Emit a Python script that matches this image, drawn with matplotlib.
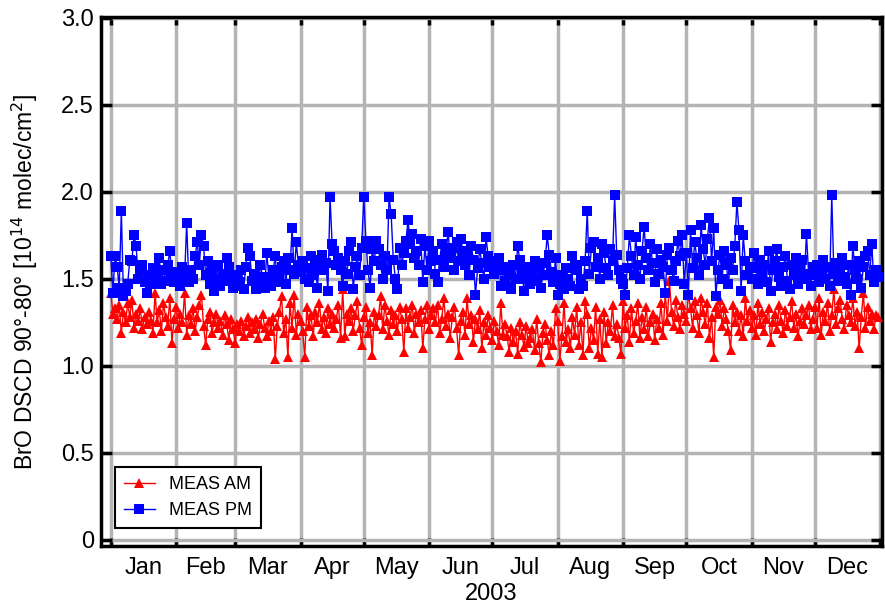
import matplotlib
matplotlib.use("Agg")
import matplotlib.pyplot as plt
import numpy as np

plt.rcParams['font.family'] = ['Liberation Sans', 'DejaVu Sans']

# days per month of 2003 and month labels
month_days = [31, 28, 31, 30, 31, 30, 31, 31, 30, 31, 30, 31]
month_names = ['Jan', 'Feb', 'Mar', 'Apr', 'May', 'Jun',
               'Jul', 'Aug', 'Sep', 'Oct', 'Nov', 'Dec']

ytick_vals = [0, 0.5, 1.0, 1.5, 2.0, 2.5, 3.0]
ytick_labels = ['0', '0.5', '1.0', '1.5', '2.0', '2.5', '3.0']

# MEAS AM, daily values (one row per month)
meas_am = [
    1.42, 1.30, 1.33, 1.27, 1.35, 1.19, 1.31, 1.25, 1.36, 1.28, 1.38, 1.22, 1.30, 1.26, 1.33, 1.21, 1.28, 1.24, 1.31, 1.26, 1.19, 1.42, 1.25, 1.32, 1.20, 1.36, 1.28, 1.23, 1.39, 1.13, 1.27,
    1.34, 1.22, 1.30, 1.25, 1.42, 1.18, 1.29, 1.24, 1.33, 1.20, 1.28, 1.35, 1.41, 1.23, 1.12, 1.27, 1.31, 1.19, 1.25, 1.30, 1.22, 1.26, 1.18, 1.29, 1.24, 1.15, 1.27, 1.21,
    1.13, 1.24, 1.20, 1.26, 1.17, 1.23, 1.28, 1.19, 1.25, 1.21, 1.27, 1.16, 1.24, 1.30, 1.22, 1.17, 1.26, 1.20, 1.28, 1.04, 1.23, 1.31, 1.40, 1.19, 1.27, 1.05, 1.36, 1.22, 1.41, 1.18, 1.30,
    1.26, 1.20, 1.05, 1.34, 1.23, 1.29, 1.17, 1.31, 1.25, 1.36, 1.21, 1.28, 1.19, 1.33, 1.24, 1.30, 1.22, 1.27, 1.35, 1.16, 1.44, 1.17, 1.30, 1.26, 1.33, 1.20, 1.29, 1.37, 1.22, 1.12,
    1.28, 1.34, 1.19, 1.25, 1.06, 1.31, 1.23, 1.29, 1.40, 1.21, 1.35, 1.26, 1.18, 1.32, 1.24, 1.29, 1.20, 1.34, 1.27, 1.08, 1.33, 1.22, 1.28, 1.35, 1.19, 1.30, 1.25, 1.32, 1.10, 1.27, 1.35,
    1.21, 1.29, 1.33, 1.25, 1.35, 1.19, 1.27, 1.39, 1.23, 1.30, 1.16, 1.28, 1.34, 1.22, 1.06, 1.26, 1.31, 1.18, 1.39, 1.24, 1.29, 1.14, 1.27, 1.21, 1.32, 1.10, 1.25, 1.18, 1.29, 1.22,
    1.15, 1.26, 1.20, 1.12, 1.36, 1.18, 1.24, 1.17, 1.08, 1.22, 1.14, 1.20, 1.07, 1.25, 1.18, 1.11, 1.23, 1.13, 1.16, 1.21, 1.09, 1.27, 1.13, 1.02, 1.19, 1.24, 1.15, 1.06, 1.20, 1.12, 1.33,
    1.26, 1.03, 1.17, 1.36, 1.14, 1.21, 1.10, 1.28, 1.18, 1.34, 1.12, 1.25, 1.06, 1.37, 1.30, 1.10, 1.22, 1.15, 1.34, 1.07, 1.27, 1.05, 1.31, 1.13, 1.25, 1.20, 1.35, 1.17, 1.24, 1.16, 1.07,
    1.37, 1.22, 1.29, 1.14, 1.33, 1.19, 1.26, 1.36, 1.16, 1.28, 1.21, 1.34, 1.17, 1.25, 1.30, 1.15, 1.27, 1.22, 1.36, 1.18, 1.42, 1.26, 1.49, 1.31, 1.23, 1.38, 1.28, 1.21, 1.35, 1.30,
    1.26, 1.41, 1.33, 1.22, 1.37, 1.29, 1.19, 1.39, 1.31, 1.24, 1.36, 1.16, 1.28, 1.05, 1.34, 1.30, 1.38, 1.23, 1.33, 1.27, 1.20, 1.09, 1.35, 1.25, 1.31, 1.20, 1.29, 1.17, 1.39, 1.26, 1.32,
    1.22, 1.29, 1.18, 1.36, 1.24, 1.31, 1.20, 1.27, 1.33, 1.14, 1.25, 1.30, 1.21, 1.35, 1.26, 1.19, 1.32, 1.23, 1.28, 1.37, 1.22, 1.30, 1.17, 1.26, 1.33, 1.24, 1.29, 1.35, 1.21, 1.27,
    1.34, 1.22, 1.39, 1.18, 1.31, 1.26, 1.36, 1.20, 1.29, 1.44, 1.24, 1.33, 1.38, 1.27, 1.21, 1.35, 1.29, 1.25, 1.39, 1.23, 1.31, 1.10, 1.28, 1.42, 1.22, 1.34, 1.26, 1.30, 1.21, 1.29, 1.28,
]

# MEAS PM, daily values (one row per month)
meas_pm = [
    1.63, 1.42, 1.63, 1.57, 1.45, 1.89, 1.40, 1.43, 1.47, 1.61, 1.60, 1.75, 1.69, 1.50, 1.55, 1.58, 1.48, 1.42, 1.52, 1.47, 1.56, 1.50, 1.53, 1.62, 1.47, 1.55, 1.49, 1.58, 1.66, 1.52, 1.48,
    1.54, 1.50, 1.46, 1.57, 1.51, 1.82, 1.48, 1.55, 1.50, 1.63, 1.71, 1.58, 1.75, 1.69, 1.52, 1.60, 1.47, 1.55, 1.43, 1.50, 1.58, 1.46, 1.53, 1.49, 1.62, 1.57, 1.51, 1.45,
    1.46, 1.52, 1.48, 1.55, 1.44, 1.57, 1.68, 1.63, 1.49, 1.53, 1.44, 1.47, 1.58, 1.51, 1.45, 1.65, 1.50, 1.46, 1.55, 1.63, 1.48, 1.52, 1.57, 1.60, 1.47, 1.62, 1.55, 1.79, 1.53, 1.71, 1.58,
    1.54, 1.60, 1.50, 1.56, 1.48, 1.63, 1.52, 1.58, 1.45, 1.61, 1.64, 1.55, 1.59, 1.43, 1.97, 1.70, 1.66, 1.58, 1.62, 1.55, 1.46, 1.60, 1.53, 1.66, 1.71, 1.44, 1.57, 1.63, 1.52, 1.68,
    1.97, 1.72, 1.55, 1.45, 1.67, 1.60, 1.72, 1.67, 1.58, 1.50, 1.63, 1.55, 1.97, 1.87, 1.61, 1.50, 1.44, 1.68, 1.58, 1.65, 1.72, 1.84, 1.70, 1.76, 1.62, 1.66, 1.58, 1.73, 1.48, 1.69, 1.55,
    1.72, 1.60, 1.66, 1.53, 1.48, 1.61, 1.70, 1.57, 1.65, 1.77, 1.62, 1.68, 1.55, 1.71, 1.60, 1.73, 1.66, 1.58, 1.64, 1.52, 1.69, 1.61, 1.41, 1.56, 1.67, 1.59, 1.50, 1.74, 1.63, 1.57,
    1.60, 1.53, 1.58, 1.62, 1.46, 1.55, 1.49, 1.57, 1.52, 1.44, 1.58, 1.50, 1.69, 1.61, 1.55, 1.43, 1.50, 1.57, 1.47, 1.53, 1.60, 1.49, 1.56, 1.45, 1.52, 1.59, 1.75, 1.64, 1.54, 1.48, 1.62,
    1.41, 1.47, 1.52, 1.44, 1.56, 1.50, 1.46, 1.63, 1.58, 1.55, 1.44, 1.50, 1.46, 1.60, 1.89, 1.53, 1.68, 1.71, 1.57, 1.62, 1.50, 1.70, 1.65, 1.56, 1.52, 1.67, 1.60, 1.98, 1.64, 1.55, 1.50,
    1.47, 1.41, 1.56, 1.75, 1.63, 1.52, 1.74, 1.58, 1.50, 1.66, 1.80, 1.62, 1.55, 1.70, 1.59, 1.48, 1.67, 1.53, 1.61, 1.57, 1.42, 1.64, 1.68, 1.55, 1.49, 1.60, 1.72, 1.63, 1.75, 1.47,
    1.65, 1.41, 1.78, 1.56, 1.71, 1.62, 1.52, 1.81, 1.67, 1.58, 1.73, 1.85, 1.60, 1.79, 1.40, 1.55, 1.64, 1.50, 1.66, 1.58, 1.47, 1.62, 1.55, 1.69, 1.94, 1.78, 1.43, 1.75, 1.60, 1.52, 1.57,
    1.50, 1.65, 1.56, 1.47, 1.61, 1.53, 1.58, 1.48, 1.66, 1.43, 1.55, 1.60, 1.67, 1.51, 1.46, 1.57, 1.63, 1.49, 1.44, 1.58, 1.52, 1.62, 1.47, 1.55, 1.61, 1.50, 1.76, 1.53, 1.46, 1.57,
    1.52, 1.58, 1.48, 1.55, 1.61, 1.50, 1.57, 1.46, 1.98, 1.53, 1.59, 1.49, 1.56, 1.62, 1.51, 1.47, 1.58, 1.41, 1.69, 1.55, 1.50, 1.60, 1.45, 1.57, 1.63, 1.66, 1.52, 1.70, 1.48, 1.55, 1.51,
]

days = np.arange(len(meas_am))
month_edges = np.concatenate([[0], np.cumsum(month_days)])
month_mids = (month_edges[:-1] + month_edges[1:]) / 2

fig = plt.figure(figsize=(8.85, 6.06), dpi=100)
ax = fig.add_axes([0.114, 0.099, 0.883, 0.873])

ax.plot(days, meas_am, color='#ff0000', lw=1, marker='^', ms=7.5,
        markeredgewidth=0, label='MEAS AM', zorder=3)
ax.plot(days, meas_pm, color='#0000ff', lw=1, marker='s', ms=7.2,
        markeredgewidth=0, label='MEAS PM', zorder=4)

ax.set_xlim(-4.7, 366)
ax.set_ylim(-0.035, 3.005)

ax.set_xticks(month_edges)
ax.set_xticklabels([])
ax.set_xticks(month_mids, minor=True)
ax.set_xticklabels(month_names, minor=True, fontsize=17)
ax.tick_params(axis='x', which='minor', length=0, pad=8)
ax.tick_params(axis='x', which='major', direction='in', length=6, width=2.5,
               top=True)

ax.set_yticks(ytick_vals)
ax.set_yticklabels(ytick_labels, fontsize=17)
ax.tick_params(axis='y', direction='in', length=8, width=2.5, right=True,
               pad=5)

ax.grid(True, which='major', color='#b4b4b4', lw=2.5, zorder=0)
ax.set_axisbelow(True)
for s in ax.spines.values():
    s.set_linewidth(2.5)
    s.set_color('black')

ax.set_xlabel('2003', fontsize=17, labelpad=3)
ax.set_ylabel('BrO DSCD 90°-80° [10$^{14}$ molec/cm$^2$]', fontsize=16.5,
              labelpad=15)

leg = ax.legend(loc='lower left', bbox_to_anchor=(0.018, 0.034), fontsize=13,
                fancybox=False, edgecolor='black', framealpha=1,
                handlelength=1.7, handletextpad=0.8, borderpad=0.5,
                labelspacing=0.5, borderaxespad=0)
leg.get_frame().set_linewidth(1.5)

plt.savefig('out.png', dpi=100)
